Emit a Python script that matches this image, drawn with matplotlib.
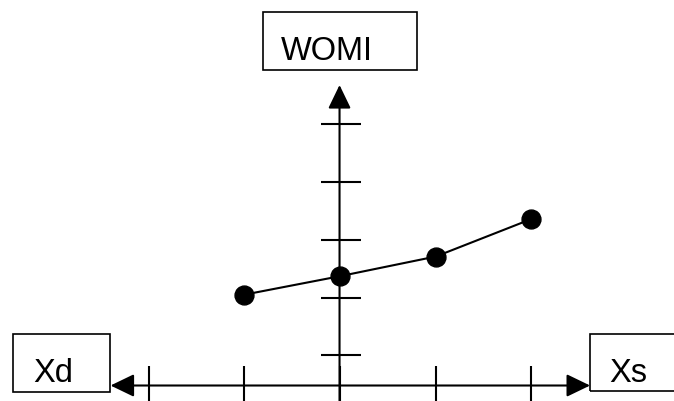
import matplotlib
matplotlib.use("Agg")
import matplotlib.pyplot as plt
from matplotlib.patches import Rectangle
from matplotlib.transforms import Bbox, TransformedBbox

# ---- data ----
x_values = [-1, 0, 1, 2]
y_values = [2.05, 2.37, 2.71, 3.36]
x_tick_positions = [-2, -1, 0, 1, 2]
y_tick_positions = [1, 2, 3, 4, 5]
y_axis_label = "WOMI"
x_left_label = "Xd"
x_right_label = "Xs"

plt.rcParams['font.family'] = ['Liberation Sans', 'DejaVu Sans']

W, H = 674, 401
fig = plt.figure(figsize=(W / 100, H / 100), dpi=100)
ax = fig.add_axes([0, 0, 1, 1])
ax.set_xlim(-3.553, 3.490)
ax.set_ylim(0.2087, 7.152)
ax.axis('off')

axis_y = 0.477      # height of horizontal axis (data units)
axis_x = -0.005     # position of vertical axis
lw = 1.5

arrow = dict(arrowstyle='-|>,head_length=1.45,head_width=0.7', mutation_scale=10,
             lw=lw, color='black', shrinkA=0, shrinkB=0)
# horizontal axis with arrows both ways
ax.annotate('', xy=(-2.398, axis_y), xytext=(0, axis_y), arrowprops=arrow)
ax.annotate('', xy=(2.613, axis_y), xytext=(0, axis_y), arrowprops=arrow)
# vertical axis
ax.annotate('', xy=(axis_x, 5.68), xytext=(axis_x, 0.2087), arrowprops=arrow)

# ticks
ax.vlines(x_tick_positions, axis_y - 0.338, axis_y + 0.338, colors='black', lw=lw)
ax.hlines(y_tick_positions, 0.008 - 0.207, 0.008 + 0.207, colors='black', lw=lw)

# data line
ax.plot(x_values, y_values, color='black', lw=1.5, marker='o', markersize=13.6,
        markerfacecolor='black', markeredgecolor='black', zorder=5)

# label boxes (axes-fraction coordinates from pixel layout)
def px_box(x0, y0, x1, y1):
    ax.add_patch(Rectangle((x0 / W, 1 - y1 / H), (x1 - x0) / W, (y1 - y0) / H,
                           transform=ax.transAxes, fill=False, lw=1.2,
                           edgecolor='black', clip_on=False))

def px_text(s, x, baseline, clip_y):
    t = ax.text(x / W, 1 - baseline / H, s, transform=ax.transAxes,
                fontsize=23.5, ha='left', va='baseline', color='black')
    t.set_clip_box(TransformedBbox(Bbox([[0, 1 - clip_y / H], [1, 1]]), ax.transAxes))
    t.set_clip_on(True)

px_box(263.3, 12.3, 416.7, 69.7)
px_text(y_axis_label, 281, 60.5, 60)
px_box(13.3, 334, 110, 391.7)
px_text(x_left_label, 33.5, 382.5, 383)
px_box(590, 334, 700, 391)
px_text(x_right_label, 609.5, 382.5, 383)

fig.savefig('out.png', dpi=100)
